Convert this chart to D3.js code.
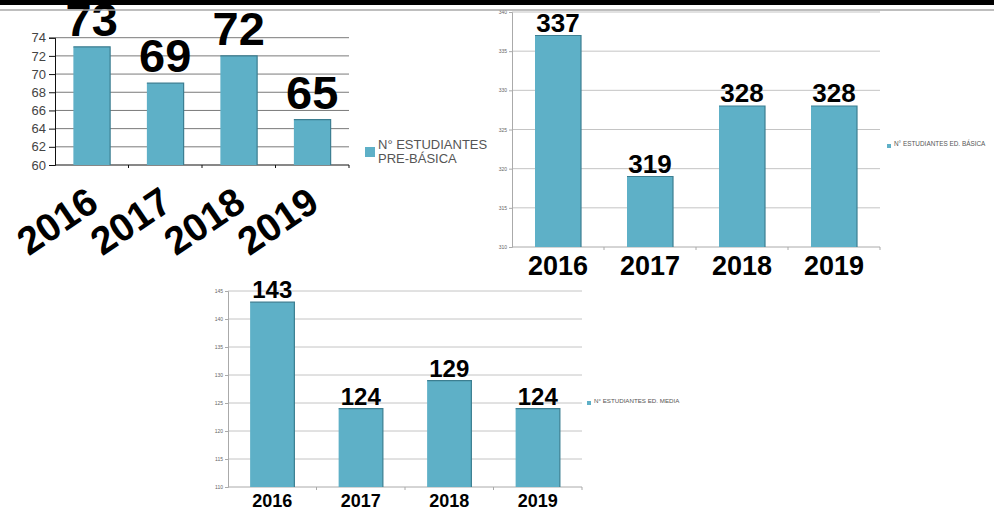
<!DOCTYPE html>
<html>
  <head>
    <meta charset="utf-8">
    <script src="https://cdn.jsdelivr.net/npm/d3@7"></script>
    <style>
      body { margin: 0; background: #fff; }
      svg { display: block; font-family: "Liberation Sans", Arial, sans-serif; }
    </style>
  </head>
  <body>
    <script>

      // data
      var years = ["2016", "2017", "2018", "2019"];
      var preBasica = [73, 69, 72, 65];
      var edBasica = [337, 319, 328, 328];
      var edMedia = [143, 124, 129, 124];

      var preBasicaTicks = [60, 62, 64, 66, 68, 70, 72, 74];
      var edBasicaTicks = [310, 315, 320, 325, 330, 335, 340];
      var edMediaTicks = [110, 115, 120, 125, 130, 135, 140, 145];

      var barColor = "#5eb0c7";

      var svg = d3.select("body")
        .append("svg")
        .attr("width", 994)
        .attr("height", 510);

      // chart draw function
      function barchart(cfg) {
        var g = svg.append("g");

        var x = d3.scaleBand()
          .domain(years)
          .range([cfg.left, cfg.right])
          .paddingInner(0.5)
          .paddingOuter(0.25);

        var y = d3.scaleLinear()
          .domain([cfg.ticks[0], cfg.ticks[cfg.ticks.length - 1]])
          .range([cfg.bottom, cfg.top]);

        // gridlines
        g.selectAll(".grid")
          .data(cfg.ticks.slice(1))
          .enter()
          .append("line")
          .attr("x1", cfg.left)
          .attr("x2", cfg.right)
          .attr("y1", function(d) { return y(d); })
          .attr("y2", function(d) { return y(d); })
          .attr("stroke", cfg.gridColor)
          .attr("stroke-width", 1);

        // y axis
        var yAxis = g.append("g")
          .attr("transform", "translate(" + cfg.left + ",0)")
          .call(d3.axisLeft(y).tickValues(cfg.ticks).tickSize(cfg.tickSize).tickPadding(cfg.tickPad));
        yAxis.select(".domain").attr("stroke", cfg.axisColor);
        yAxis.selectAll(".tick line").attr("stroke", cfg.axisColor);
        yAxis.selectAll("text")
          .attr("fill", cfg.tickColor)
          .style("font-size", cfg.tickFont + "px")
          .style("font-family", "Liberation Sans, Arial, sans-serif");

        // x axis line
        g.append("line")
          .attr("x1", cfg.left)
          .attr("x2", cfg.right)
          .attr("y1", cfg.bottom)
          .attr("y2", cfg.bottom)
          .attr("stroke", cfg.axisColor);

        // x axis ticks between the bars
        var step = x.step();
        g.selectAll(".xtick")
          .data(years)
          .enter()
          .append("line")
          .attr("x1", function(d) { return x(d) - x.bandwidth() * 0.5 + step; })
          .attr("x2", function(d) { return x(d) - x.bandwidth() * 0.5 + step; })
          .attr("y1", cfg.bottom)
          .attr("y2", cfg.bottom + 3)
          .attr("stroke", cfg.axisColor);

        // bars
        g.selectAll(".bar")
          .data(cfg.values)
          .enter()
          .append("rect")
          .attr("x", function(d, i) { return x(years[i]); })
          .attr("y", function(d) { return y(d); })
          .attr("width", x.bandwidth())
          .attr("height", function(d) { return cfg.bottom - y(d); })
          .attr("fill", barColor);

        // dark edge on top and right
        g.selectAll(".edge")
          .data(cfg.values)
          .enter()
          .append("path")
          .attr("d", function(d, i) {
            var x0 = x(years[i]), x1 = x0 + x.bandwidth();
            return "M" + x0 + "," + y(d) + "H" + x1 + "V" + cfg.bottom;
          })
          .attr("fill", "none")
          .attr("stroke", "#3c7e91")
          .attr("stroke-width", 1.2);

        // value labels
        g.selectAll(".val")
          .data(cfg.values)
          .enter()
          .append("text")
          .attr("x", function(d, i) { return x(years[i]) + x.bandwidth() / 2; })
          .attr("y", function(d) { return y(d) - cfg.valGap; })
          .attr("text-anchor", "middle")
          .style("font-size", cfg.valFont + "px")
          .style("font-weight", "700")
          .attr("fill", "#000")
          .text(function(d) { return d; });

        // year labels
        g.selectAll(".year")
          .data(years)
          .enter()
          .append("text")
          .attr("transform", function(d) {
            var cx = x(d) + x.bandwidth() / 2;
            if (cfg.rotate) {
              return "translate(" + (cx + 9) + "," + (cfg.bottom + 43) + ") rotate(-34)";
            }
            return "translate(" + cx + "," + cfg.yearY + ")";
          })
          .attr("text-anchor", cfg.rotate ? "end" : "middle")
          .style("font-size", cfg.yearFont + "px")
          .style("font-weight", "700")
          .attr("fill", "#000")
          .text(function(d) { return d; });

        // legend
        g.append("rect")
          .attr("x", cfg.legX)
          .attr("y", cfg.legY - cfg.legBox / 2)
          .attr("width", cfg.legBox)
          .attr("height", cfg.legBox)
          .attr("fill", barColor);

        cfg.legend.forEach(function(line, i) {
          g.append("text")
            .attr("x", cfg.legX + cfg.legBox + 3)
            .attr("y", cfg.legY + cfg.legDy + i * cfg.legLine)
            .style("font-size", cfg.legFont + "px")
            .attr("fill", "#555")
            .text(line);
        });
      }

      // pre-basica (top left)
      barchart({
        values: preBasica, ticks: preBasicaTicks,
        left: 55, right: 349, top: 37.7, bottom: 165,
        gridColor: "#7a7a7a", axisColor: "#111", tickColor: "#444",
        tickSize: 6, tickPad: 3, tickFont: 13,
        valFont: 47, valGap: 11,
        rotate: true, yearFont: 39,
        legX: 365, legY: 152, legBox: 10, legFont: 13, legDy: -3, legLine: 14,
        legend: ["N° ESTUDIANTES", "PRE-BÁSICA"]
      });

      // ed. basica (top right)
      barchart({
        values: edBasica, ticks: edBasicaTicks,
        left: 512, right: 880, top: 12, bottom: 247,
        gridColor: "#c4c4c4", axisColor: "#aaa", tickColor: "#666",
        tickSize: 3, tickPad: 2, tickFont: 5,
        valFont: 26, valGap: 4,
        rotate: false, yearFont: 27, yearY: 275,
        legX: 887, legY: 146, legBox: 4, legFont: 6.4, legDy: 0, legLine: 7,
        legend: ["N° ESTUDIANTES ED. BÁSICA"]
      });

      // ed. media (bottom)
      barchart({
        values: edMedia, ticks: edMediaTicks,
        left: 228, right: 582, top: 291, bottom: 487,
        gridColor: "#c4c4c4", axisColor: "#aaa", tickColor: "#666",
        tickSize: 3, tickPad: 2, tickFont: 5,
        valFont: 24, valGap: 4,
        rotate: false, yearFont: 18, yearY: 507,
        legX: 587, legY: 403, legBox: 4, legFont: 6.2, legDy: 0, legLine: 7,
        legend: ["N° ESTUDIANTES ED. MEDIA"]
      });

      // slide frame on top
      svg.append("rect")
        .attr("x", 0).attr("y", 0)
        .attr("width", 994).attr("height", 5)
        .attr("fill", "#000");
      svg.append("line")
        .attr("x1", 0).attr("x2", 994)
        .attr("y1", 10).attr("y2", 10)
        .attr("stroke", "#a8a8a8")
        .attr("stroke-width", 1.5);

    </script>
  </body>
</html>
